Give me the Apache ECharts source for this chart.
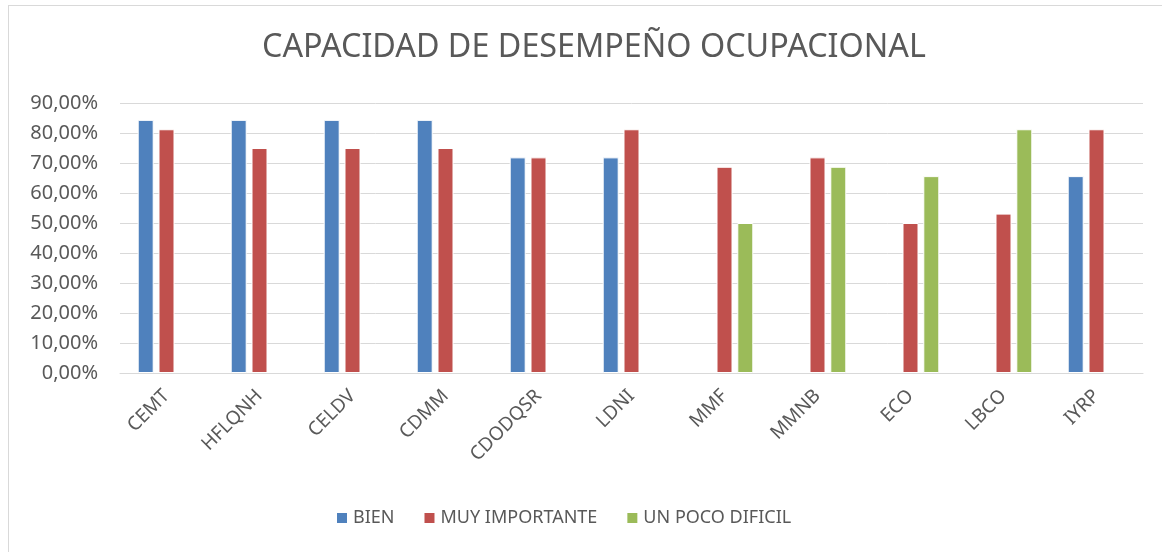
<!DOCTYPE html>
<html>
<head>
<meta charset="utf-8">
<script src="https://cdn.jsdelivr.net/npm/echarts@6/dist/echarts.min.js"></script>
<style>
  html, body {
    margin: 0;
    padding: 0;
    background: #fff;
  }
  .frame {
    position: absolute;
    left: 8px;
    top: 5px;
    width: 1170px;
    height: 560px;
    border: 1px solid #d9d9d9;
  }
  #chart {
    position: absolute;
    left: 0;
    top: 0;
    width: 1162px;
    height: 552px;
  }
</style>
</head>
<body>
<div class="frame"></div>
<div id="chart"></div>
<script>
// categorias y series (porcentajes)
const categories = ['CEMT', 'HFLQNH', 'CELDV', 'CDMM', 'CDODQSR', 'LDNI', 'MMF', 'MMNB', 'ECO', 'LBCO', 'IYRP']
const bien = [84.38, 84.38, 84.38, 84.38, 71.88, 71.88, null, null, null, null, 65.63]
const muyImportante = [81.25, 75, 75, 75, 71.88, 81.25, 68.75, 71.88, 50, 53.13, 81.25]
const unPocoDificil = [null, null, null, null, null, null, 50, 68.75, 65.63, 81.25, null]
const yTicks = [0, 10, 20, 30, 40, 50, 60, 70, 80, 90]

const font = '"Noto Sans", sans-serif'
const textColor = '#595959'

const chart = echarts.init(document.getElementById('chart'))

function barSeries(name, data, color) {
  return {
    name: name,
    type: 'bar',
    data: data,
    barWidth: 16,
    barGap: '30%',
    itemStyle: {
      color: color,
      borderColor: '#ffffff',
      borderWidth: 1
    }
  }
}

let option = {
  backgroundColor: 'transparent',
  animation: false,
  title: {
    text: 'CAPACIDAD DE DESEMPEÑO OCUPACIONAL',
    left: 257,
    top: 27,
    textStyle: {
      fontFamily: font,
      fontSize: 32.3,
      fontWeight: 'normal',
      color: textColor
    }
  },
  legend: {
    bottom: 20,
    left: 330,
    itemWidth: 12,
    itemHeight: 12,
    itemGap: 28,
    icon: 'rect',
    textStyle: {
      fontFamily: font,
      fontSize: 18,
      color: textColor
    }
  },
  grid: {
    left: 120,
    right: 19,
    top: 103,
    bottom: 179
  },
  xAxis: {
    type: 'category',
    data: categories,
    axisLine: {
      lineStyle: {color: '#d9d9d9', width: 1}
    },
    axisTick: {show: false},
    axisLabel: {
      interval: 0,
      rotate: 45,
      margin: 20,
      fontFamily: font,
      fontSize: 19,
      color: textColor
    }
  },
  yAxis: {
    type: 'value',
    min: yTicks[0],
    max: yTicks[yTicks.length - 1],
    interval: 10,
    axisLine: {show: false},
    axisTick: {show: false},
    splitLine: {
      lineStyle: {color: '#d9d9d9', width: 1}
    },
    axisLabel: {
      margin: 22,
      fontFamily: font,
      fontSize: 20,
      color: textColor,
      formatter: v => v.toFixed(2).replace('.', ',') + '%'
    }
  },
  series: [
    barSeries('BIEN', bien, '#4F81BD'),
    barSeries('MUY IMPORTANTE', muyImportante, '#C0504D'),
    barSeries('UN POCO DIFICIL', unPocoDificil, '#9BBB59')
  ]
}
chart.setOption(option)
</script>
</body>
</html>
